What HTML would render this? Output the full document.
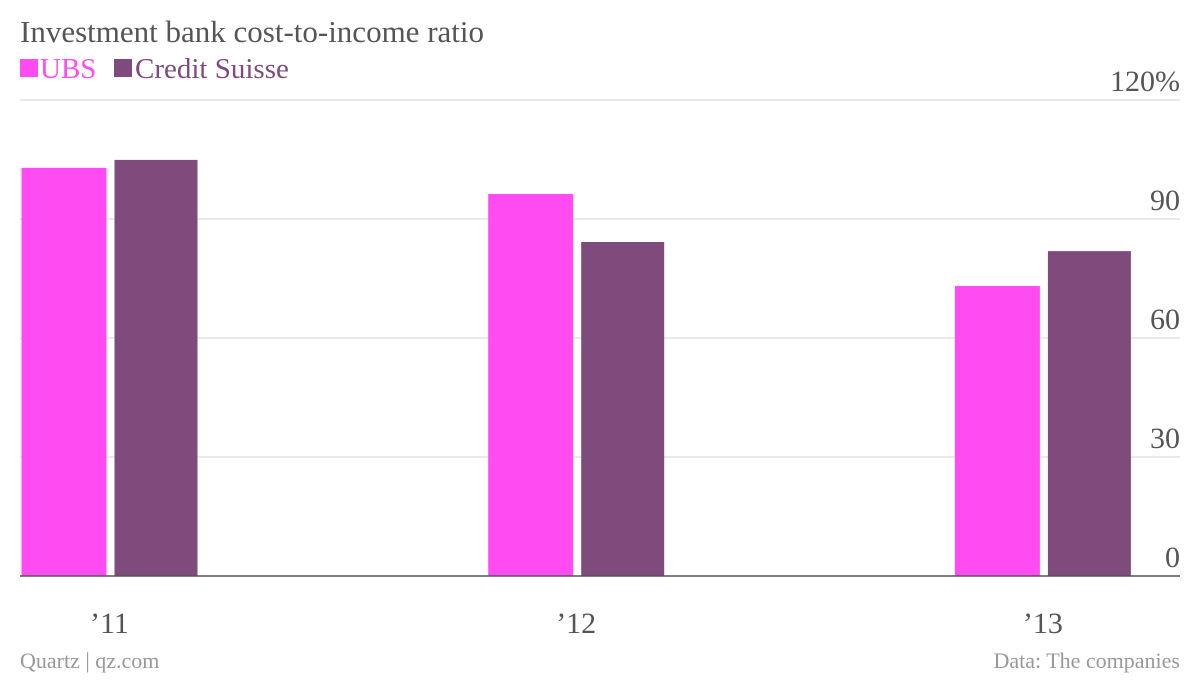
<!DOCTYPE html>
<html><head><meta charset="utf-8"><style>
body{margin:0;background:#fff;width:1200px;height:676px;overflow:hidden;font-family:"Liberation Serif",serif;}
</style></head><body>
<svg width="1200" height="676">
<text x="20" y="42" font-size="31" fill="#555">Investment bank cost-to-income ratio</text>
<g>
<rect x="20" y="59" width="18" height="18" fill="#ff4cf2"/>
<text x="40" y="78" font-size="29" fill="#ff4cf2">UBS</text>
<rect x="114" y="59" width="18" height="18" fill="#7f4a7c"/>
<text x="135" y="78" font-size="29" fill="#7f4a7c">Credit Suisse</text>
</g>
<g id="grid"></g><g id="bars"></g><g id="xl"></g>
<line x1="20" x2="1180" y1="576" y2="576" stroke="#555" stroke-width="1.5"/>
<text x="20" y="668" font-size="22" fill="#999">Quartz | qz.com</text>
<text x="1180" y="668" font-size="22" fill="#999" text-anchor="end">Data: The companies</text>
</svg>
<script>
const categories=["’11","’12","’13"];
const ubs=[102.9,96.3,73.1];
const cs=[104.9,84.2,81.9];
const ticks=[0,30,60,90,120];
const tickLabels=["0","30","60","90","120%"];
const NS="http://www.w3.org/2000/svg";
const y=v=>576-v*(476/120);
const xc=i=>109.5+i*466.7;
function mk(tag,attrs,parent){const e=document.createElementNS(NS,tag);for(const k in attrs)e.setAttribute(k,attrs[k]);document.getElementById(parent).appendChild(e);return e;}
ticks.forEach((t,i)=>{
 if(t>0){const l=mk("line",{x1:20,x2:1180,y1:y(t),y2:y(t),stroke:"#e2e2e2","stroke-width":1.5},"grid");
 
 }
 const tx=mk("text",{x:1180,y:y(t)-9,"font-size":30,fill:"#555","text-anchor":"end"},"grid");
 tx.textContent=tickLabels[i];
 
 
});
categories.forEach((c,i)=>{
 const b1=mk("rect",{x:xc(i)-88,y:y(ubs[i]),width:85,height:576-y(ubs[i]),fill:"#ff4cf2"},"bars");
 
 
 const b2=mk("rect",{x:xc(i)+5,y:y(cs[i]),width:83,height:576-y(cs[i]),fill:"#7f4a7c"},"bars");
 
 
 const t=mk("text",{x:xc(i),y:633,"font-size":30,fill:"#555","text-anchor":"middle"},"xl");
 t.textContent=c;
 
 
});
</script>
</body></html>
